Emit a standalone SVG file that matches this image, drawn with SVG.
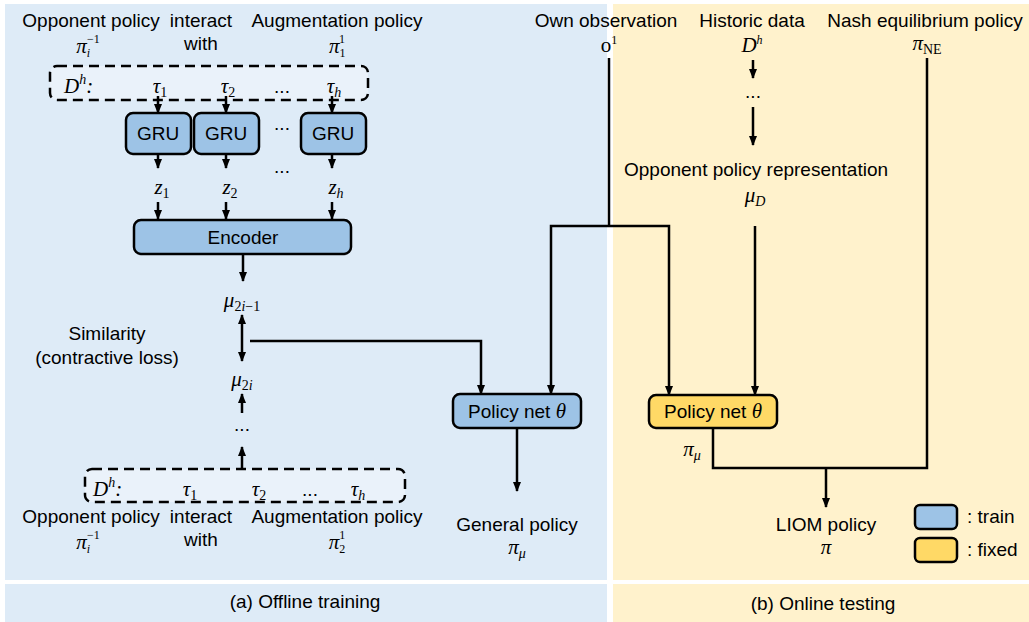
<svg xmlns="http://www.w3.org/2000/svg" width="1029" height="622" viewBox="0 0 1029 622">
  <style>
    .t { font-family: "Liberation Sans", Arial, sans-serif; font-size: 19px; fill: #000; }
    .m { font-family: "Liberation Serif", "Times New Roman", serif; font-size: 21px; font-style: italic; fill: #000; }
    .up { font-style: normal; }
    .s { font-size: 14px; }
    .ss { font-size: 12px; }
    .box { stroke: #000; stroke-width: 2.5; }
    .train { fill: #9DC3E6; }
    .fixed { fill: #FFD966; }
    .dash { fill: #EAF2FA; stroke: #000; stroke-width: 2.5; stroke-dasharray: 10 6; }
    .c { fill: none; stroke: #000; stroke-width: 2.5; }
    .a { marker-end: url(#ah); }
    .aa { marker-start: url(#ah); marker-end: url(#ah); }
  </style>
  <defs>
    <marker id="ah" markerUnits="userSpaceOnUse" markerWidth="10" markerHeight="10" viewBox="0 0 10 10" refX="9" refY="5" orient="auto-start-reverse">
      <path d="M0,1 L10,5 L0,9 Z" fill="#000"/>
    </marker>
  </defs>

  <!-- panels -->
  <g id="panels">
    <rect x="5" y="4" width="602" height="576" fill="#DEEBF7"/>
    <rect x="613" y="4" width="416" height="576" fill="#FFF2CC"/>
    <rect x="5" y="584" width="602" height="38" fill="#DEEBF7"/>
    <rect x="613" y="584" width="416" height="38" fill="#FFF2CC"/>
    <text class="t" x="305" y="608" text-anchor="middle">(a) Offline training</text>
    <text class="t" x="823" y="610" text-anchor="middle">(b) Online testing</text>
  </g>

  <!-- offline: top trajectory set -->
  <g id="top-labels">
    <text class="t" x="91" y="27" text-anchor="middle">Opponent policy</text>
    <text class="t" x="201" y="27" text-anchor="middle">interact</text>
    <text class="t" x="337" y="27" text-anchor="middle">Augmentation policy</text>
    <text class="m" x="88" y="53" text-anchor="middle">π<tspan class="ss" dy="4">i</tspan><tspan class="ss up" dx="-3" dy="-14">−1</tspan></text>
    <text class="t" x="201" y="50" text-anchor="middle">with</text>
    <text class="m" x="337" y="53" text-anchor="middle">π<tspan class="ss up" dy="4">1</tspan><tspan class="ss up" dx="-6" dy="-14">1</tspan></text>
  </g>

  <g id="data-top">
    <rect class="dash" x="50" y="66" width="318" height="34" rx="7"/>
    <text class="m" x="64" y="93">D<tspan class="s" dy="-9">h</tspan><tspan dy="9">:</tspan></text>
    <text class="m" x="160" y="93" text-anchor="middle">τ<tspan class="s up" dy="4">1</tspan></text>
    <text class="m" x="228" y="93" text-anchor="middle">τ<tspan class="s up" dy="4">2</tspan></text>
    <text class="t" x="282" y="93" text-anchor="middle">...</text>
    <text class="m" x="334" y="93" text-anchor="middle">τ<tspan class="s" dy="4">h</tspan></text>
  </g>

  <g id="gru1">
    <rect class="box train" x="126" y="113" width="65" height="41" rx="7"/>
    <text class="t" x="158" y="140" text-anchor="middle">GRU</text>
  </g>
  <g id="gru2">
    <rect class="box train" x="194" y="113" width="65" height="41" rx="7"/>
    <text class="t" x="226" y="140" text-anchor="middle">GRU</text>
  </g>
  <g id="gru3">
    <rect class="box train" x="301" y="113" width="65" height="41" rx="7"/>
    <text class="t" x="333" y="140" text-anchor="middle">GRU</text>
  </g>
  <text class="t" x="282" y="130" text-anchor="middle">...</text>
  <text class="t" x="282" y="173" text-anchor="middle">...</text>

  <g id="latents">
    <text class="m" x="162" y="194" text-anchor="middle">z<tspan class="s up" dy="4">1</tspan></text>
    <text class="m" x="230" y="194" text-anchor="middle">z<tspan class="s up" dy="4">2</tspan></text>
    <text class="m" x="336" y="194" text-anchor="middle">z<tspan class="s" dy="4">h</tspan></text>
  </g>

  <g id="encoder">
    <rect class="box train" x="134" y="220" width="217" height="34" rx="7"/>
    <text class="t" x="243" y="244" text-anchor="middle">Encoder</text>
  </g>

  <g id="similarity">
    <text class="m" x="242" y="307" text-anchor="middle">μ<tspan class="s" dy="4"><tspan class="up">2</tspan>i<tspan class="up">−1</tspan></tspan></text>
    <text class="t" x="107" y="340" text-anchor="middle">Similarity</text>
    <text class="t" x="107" y="364" text-anchor="middle">(contractive loss)</text>
    <text class="m" x="242" y="386" text-anchor="middle">μ<tspan class="s" dy="4"><tspan class="up">2</tspan>i</tspan></text>
    <text class="t" x="242" y="431" text-anchor="middle">...</text>
  </g>

  <!-- offline: bottom trajectory set -->
  <g id="data-bottom">
    <rect class="dash" x="85" y="469" width="320" height="33" rx="7"/>
    <text class="m" x="93" y="496">D<tspan class="s" dy="-9">h</tspan><tspan dy="9">:</tspan></text>
    <text class="m" x="190" y="496" text-anchor="middle">τ<tspan class="s up" dy="4">1</tspan></text>
    <text class="m" x="259" y="496" text-anchor="middle">τ<tspan class="s up" dy="4">2</tspan></text>
    <text class="t" x="310" y="496" text-anchor="middle">...</text>
    <text class="m" x="358" y="496" text-anchor="middle">τ<tspan class="s" dy="4">h</tspan></text>
  </g>
  <g id="bottom-labels">
    <text class="t" x="91" y="523" text-anchor="middle">Opponent policy</text>
    <text class="t" x="201" y="523" text-anchor="middle">interact</text>
    <text class="t" x="337" y="523" text-anchor="middle">Augmentation policy</text>
    <text class="m" x="88" y="549" text-anchor="middle">π<tspan class="ss" dy="4">i</tspan><tspan class="ss up" dx="-3" dy="-14">−1</tspan></text>
    <text class="t" x="201" y="546" text-anchor="middle">with</text>
    <text class="m" x="337" y="549" text-anchor="middle">π<tspan class="ss up" dy="4">2</tspan><tspan class="ss up" dx="-6" dy="-14">1</tspan></text>
  </g>

  <g id="policy-train">
    <rect class="box train" x="453" y="394" width="128" height="34" rx="7"/>
    <text class="t" x="517" y="418" text-anchor="middle">Policy net <tspan class="m">θ</tspan></text>
  </g>
  <g id="general-policy">
    <text class="t" x="517" y="531" text-anchor="middle">General policy</text>
    <text class="m" x="517" y="554" text-anchor="middle">π<tspan class="s" dy="4">μ</tspan></text>
  </g>

  <!-- online side -->
  <g id="own-obs">
    <text class="t" x="606" y="27" text-anchor="middle">Own observation</text>
    <text class="m up" x="609" y="52" text-anchor="middle">o<tspan class="ss" dy="-8">1</tspan></text>
  </g>
  <g id="historic">
    <text class="t" x="752" y="27" text-anchor="middle">Historic data</text>
    <text class="m" x="752" y="52" text-anchor="middle">D<tspan class="ss" dy="-8">h</tspan></text>
    <text class="t" x="753" y="98" text-anchor="middle">...</text>
  </g>
  <g id="nash">
    <text class="t" x="925" y="27" text-anchor="middle">Nash equilibrium policy</text>
    <text class="m" x="927" y="50" text-anchor="middle">π<tspan class="s up" dy="4">NE</tspan></text>
  </g>
  <g id="representation">
    <text class="t" x="756" y="176" text-anchor="middle">Opponent policy representation</text>
    <text class="m" x="755" y="202" text-anchor="middle">μ<tspan class="s" dy="4">D</tspan></text>
  </g>

  <g id="policy-fixed">
    <rect class="box fixed" x="649" y="395" width="128" height="33" rx="7"/>
    <text class="t" x="713" y="418" text-anchor="middle">Policy net <tspan class="m">θ</tspan></text>
  </g>
  <text class="m" x="692" y="456" text-anchor="middle">π<tspan class="s" dy="4">μ</tspan></text>

  <g id="liom-policy">
    <text class="t" x="826" y="531" text-anchor="middle">LIOM policy</text>
    <text class="m" x="826" y="554" text-anchor="middle">π</text>
  </g>

  <g id="legend">
    <rect class="box train" x="915" y="505" width="42" height="24" rx="5"/>
    <text class="t" x="967" y="523">: train</text>
    <rect class="box fixed" x="915" y="538" width="42" height="24" rx="5"/>
    <text class="t" x="967" y="556">: fixed</text>
  </g>

  <!-- connectors -->
  <g id="connectors">
    <path class="c a" d="M158 96 V113"/>
    <path class="c a" d="M226 96 V113"/>
    <path class="c a" d="M332 96 V113"/>
    <path class="c a" d="M158 154 V168"/>
    <path class="c a" d="M226 154 V168"/>
    <path class="c a" d="M332 154 V168"/>
    <path class="c a" d="M158 202 V219"/>
    <path class="c a" d="M226 202 V219"/>
    <path class="c a" d="M332 202 V219"/>
    <path class="c a" d="M243 254 V281"/>
    <path class="c aa" d="M242 315 V361"/>
    <path class="c a" d="M250 341 H481 V394"/>
    <path class="c a" d="M242 413 V394"/>
    <path class="c a" d="M242 469 V447"/>
    <path class="c a" d="M517 428 V491"/>
    <path class="c" d="M609 58 V226"/>
    <path class="c a" d="M609 226 H551 V394"/>
    <path class="c a" d="M609 226 H669 V395"/>
    <path class="c a" d="M753 60 V78"/>
    <path class="c a" d="M753 107 V145"/>
    <path class="c a" d="M755 226 V395"/>
    <path class="c" d="M713 428 V468 H927 V58"/>
    <path class="c a" d="M826 468 V507"/>
  </g>
</svg>
